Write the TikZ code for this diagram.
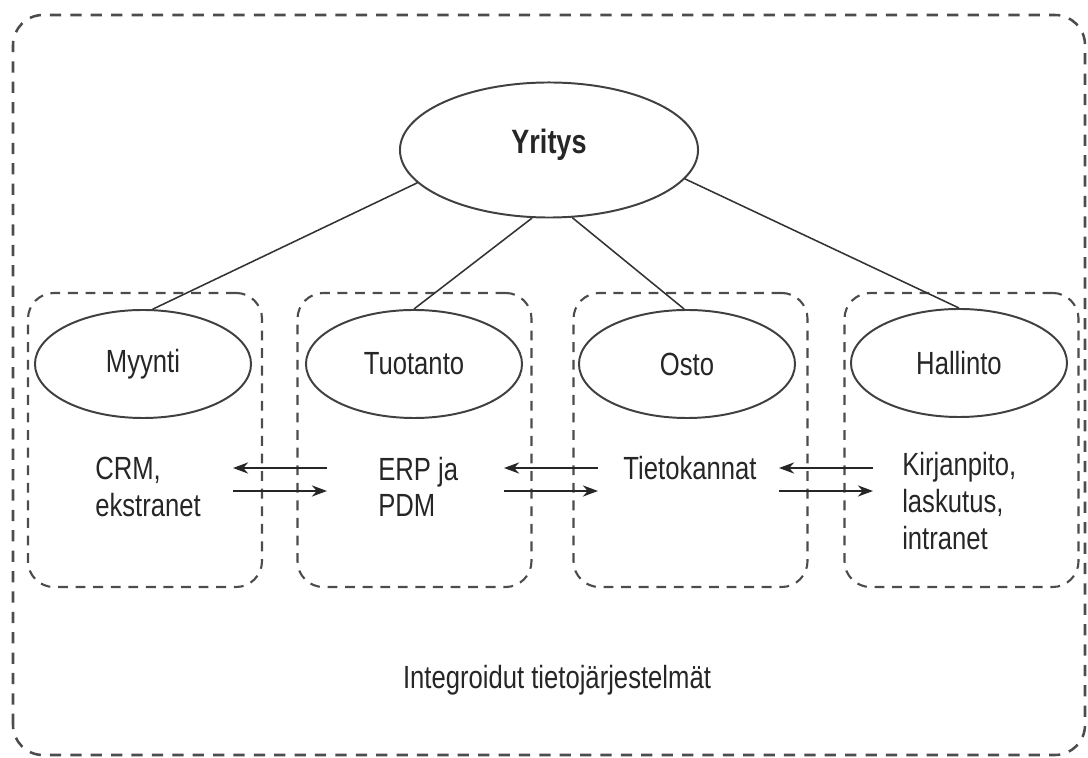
\documentclass[tikz,border=0pt]{standalone}
\usepackage{fontspec}
\setmainfont{Liberation Sans}[FakeStretch=0.8]
\usetikzlibrary{shapes.geometric,arrows.meta}

\begin{document}
\begin{tikzpicture}[
    x=0.025cm, y=0.025cm,
    unit/.style   ={ellipse, draw=black!75, line width=1.4pt, fill=white,
                    minimum width=5.4cm, minimum height=2.7cm, inner sep=0pt,
                    text=black!85, font=\fontsize{22.8}{26}\selectfont},
    dept/.style   ={draw=black!70, dash pattern=on 7pt off 5.5pt, line width=1.5pt,
                    rounded corners=0.65cm, minimum width=5.85cm, minimum height=7.35cm},
    outer/.style  ={draw=black!70, dash pattern=on 8pt off 6.5pt, line width=1.8pt,
                    rounded corners=0.75cm},
    sys/.style    ={font=\fontsize{22.8}{26}\selectfont, align=left, inner sep=0pt,
                    text=black!85},
    link/.style   ={draw=black!80, line width=1.1pt},
    flow/.style   ={draw=black!85, line width=1.1pt,
                    -{Stealth[length=3.8mm, width=2.8mm]}}
  ]
    \useasboundingbox (0,0) rectangle (1088,758);
    % --- whole system ---
    \draw[outer] (13,3) rectangle (1085,743);
    \node[sys, align=center] (integr) at (557,78) {Integroidut tietojärjestelmät};

    % --- company ---
    \node[unit, minimum width=7.45cm, minimum height=3.375cm,
          font=\fontsize{24}{28}\selectfont\bfseries] (yritys) at (549,608)
          {\raisebox{12pt}{Yritys}};

    % --- departments (dashed groups) ---
    \node[dept] (myyntibox)   at (145,318) {};
    \node[dept] (tuotantobox) at (414.5,318) {};
    \node[dept] (ostobox)     at (690.5,318) {};
    \node[dept] (hallintobox) at (961.5,318) {};

    \node[unit] (myynti)   at (143,394) {Myynti};
    \node[unit] (tuotanto) at (414,394) {Tuotanto};
    \node[unit] (osto)     at (687,394) {Osto};
    \node[unit] (hallinto) at (959,395) {Hallinto};

    % systems of each department
    \node[sys, anchor=west] (crm)   at (95,271)  {CRM,\\ekstranet};
    \node[sys, anchor=west] (erp)   at (378,271) {ERP ja\\PDM};
    \node[sys]              (tieto) at (690,290) {Tietokannat};
    \node[sys, anchor=west] (kirja) at (902,257) {Kirjanpito,\\laskutus,\\intranet};

    % company to departments
    \draw[link] (yritys.194) -- (myynti.80);
    \draw[link] (yritys.256) -- (tuotanto.north);
    \draw[link] (yritys.289) -- (osto.93);
    \draw[link] (yritys.348) -- (hallinto.north);

    % data flows between neighbours
    \coordinate (g1) at (280,278);
    \coordinate (g2) at (551,278);
    \coordinate (g3) at (826,278);
    \foreach \g in {g1,g2,g3} {
      \draw[flow] ([shift={(47,12)}]\g) -- ([shift={(-47,12)}]\g);
      \draw[flow] ([shift={(-47,-11)}]\g) -- ([shift={(47,-11)}]\g);
    }
\end{tikzpicture}
\end{document}
